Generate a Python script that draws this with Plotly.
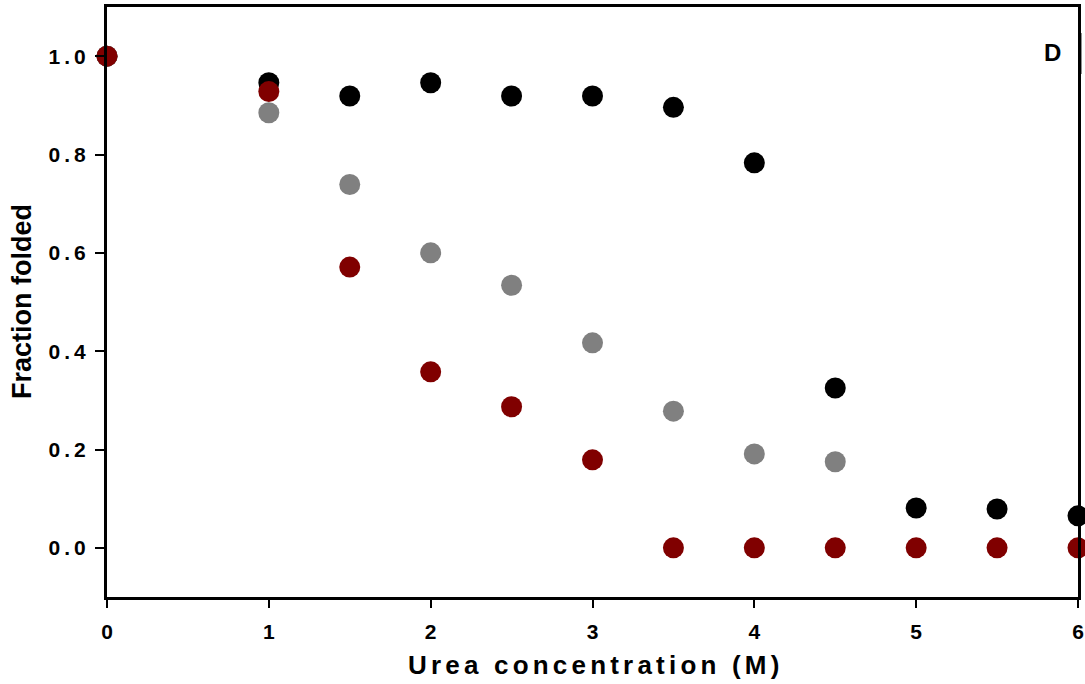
import plotly.graph_objects as go

urea = [0, 1, 1.5, 2, 2.5, 3, 3.5, 4, 4.5, 5, 5.5, 6]
black_vals = [1.0, 0.946, 0.919, 0.946, 0.919, 0.919, 0.896, 0.783, 0.325, 0.081, 0.079, 0.065]
gray_x = [0, 1, 1.5, 2, 2.5, 3, 3.5, 4, 4.5]
gray_vals = [1.0, 0.885, 0.739, 0.600, 0.534, 0.417, 0.278, 0.191, 0.175]
red_vals = [1.0, 0.928, 0.571, 0.358, 0.287, 0.179, 0.0, 0.0, 0.0, 0.0, 0.0, 0.0]

x_ticks = [0, 1, 2, 3, 4, 5, 6]
y_ticks = [0.0, 0.2, 0.4, 0.6, 0.8, 1.0]
y_tick_text = ["0.0", "0.2", "0.4", "0.6", "0.8", "1.0"]

FONT = "Liberation Sans, Arial, sans-serif"
MS = 21

fig = go.Figure()
fig.add_trace(go.Scatter(x=urea, y=black_vals, mode="markers", cliponaxis=False,
                         marker=dict(color="#000000", size=MS, line=dict(width=0))))
fig.add_trace(go.Scatter(x=gray_x, y=gray_vals, mode="markers", cliponaxis=False,
                         marker=dict(color="#808080", size=MS, line=dict(width=0))))
fig.add_trace(go.Scatter(x=urea, y=red_vals, mode="markers", cliponaxis=False,
                         marker=dict(color="#800000", size=MS, line=dict(width=0))))

def ls(s, px):
    return '<span style="letter-spacing:%spx">%s</span>' % (px, s)

fig.update_layout(
    width=1085, height=684,
    margin=dict(l=107, r=7, t=7, b=87, autoexpand=False),
    plot_bgcolor="white", paper_bgcolor="white",
    showlegend=False,
    font=dict(family=FONT, color="black"),
    xaxis=dict(range=[0, 6], tickvals=x_ticks, ticks="outside", ticklen=8, tickwidth=2,
               tickcolor="black", showline=True, linewidth=3, linecolor="black",
               mirror=True, showgrid=False, zeroline=False, automargin=False,
               tickfont=dict(size=21, family=FONT, weight="bold"), ticklabelstandoff=6),
    yaxis=dict(range=[-0.1, 1.1], tickvals=y_ticks,
               ticktext=[ls(t, 4) for t in y_tick_text], ticks="outside",
               ticklen=9, tickwidth=2, tickcolor="black", showline=True, linewidth=3,
               linecolor="black", mirror=True, showgrid=False, zeroline=False,
               automargin=False,
               tickfont=dict(size=21, family=FONT, weight="bold"), ticklabelstandoff=1),
    annotations=[
        dict(text=ls("Urea concentration (M)", 4.2), xref="paper", yref="paper",
             x=0.5 + 3 / 971, y=-(665 - 597) / 590, xanchor="center", yanchor="middle",
             showarrow=False, font=dict(size=26, family=FONT, weight="bold")),
        dict(text="Fraction folded", xref="paper", yref="paper",
             x=-(107 - 22) / 971, y=0.5, xanchor="center", yanchor="middle",
             textangle=-90, showarrow=False, font=dict(size=27, family=FONT, weight="bold")),
        dict(text="D", xref="paper", yref="paper",
             x=(1052 - 107) / 971, y=1 - (52 - 7) / 590, xanchor="center", yanchor="middle",
             showarrow=False, font=dict(size=24, family=FONT, weight="bold")),
    ],
    shapes=[
        dict(type="line", xref="paper", yref="paper", x0=1.002, x1=1.002,
             y0=1 - (33 - 7) / 590, y1=1 - (74 - 7) / 590,
             line=dict(color="black", width=3)),
    ],
)

fig.write_html("out.html")
